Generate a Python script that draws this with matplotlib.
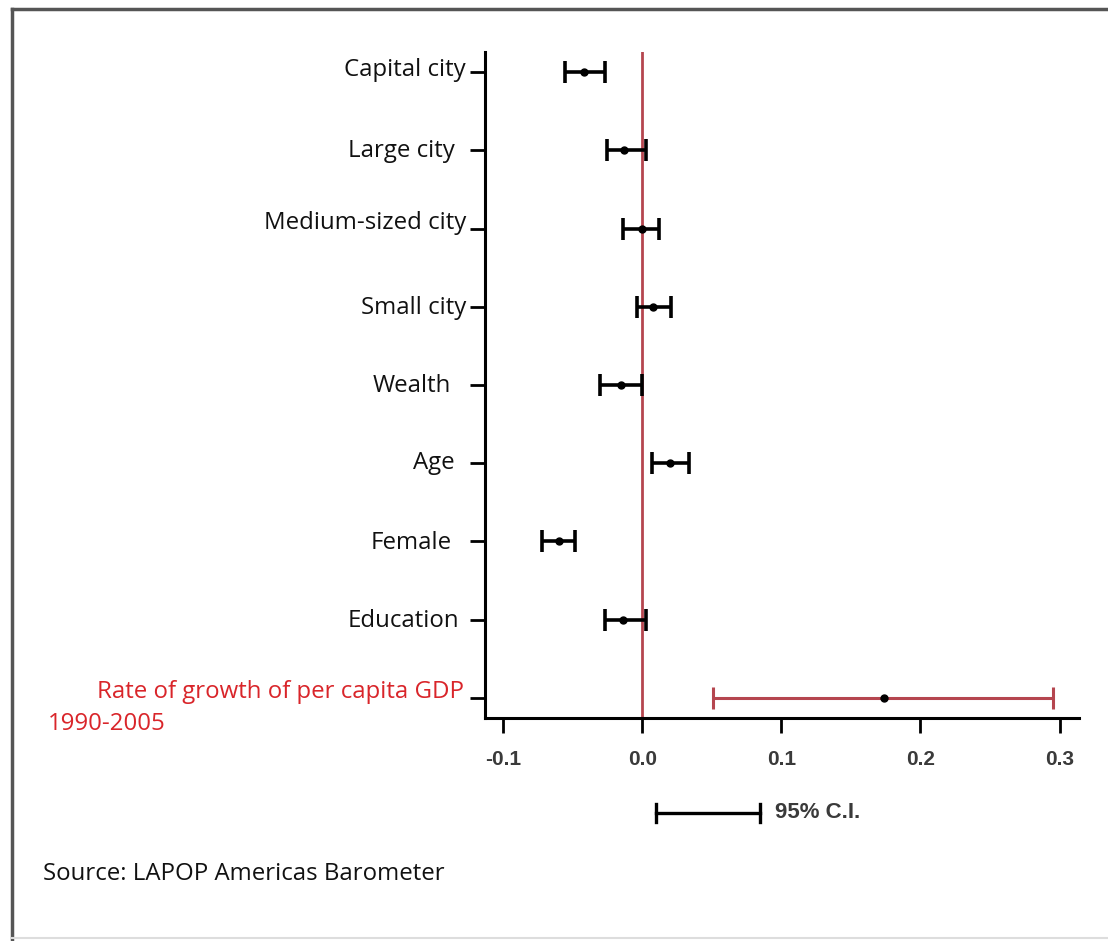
import numpy as np
import matplotlib
matplotlib.use("Agg")
import matplotlib.pyplot as plt
from matplotlib.lines import Line2D

# ====== DATA (top to bottom) ======
labels = ["Capital city", "Large city", "Medium-sized city", "Small city",
          "Wealth", "Age", "Female", "Education"]
coef = [-0.042, -0.013, 0.000, 0.008, -0.015, 0.020, -0.060, -0.0135]
ci_lo = [-0.0557, -0.025, -0.0136, -0.004, -0.030, 0.007, -0.072, -0.027]
ci_hi = [-0.027, 0.003, 0.012, 0.021, 0.000, 0.034, -0.048, 0.003]

gdp_label = ["Rate of growth of per capita GDP", "1990-2005"]
gdp_coef = 0.1736
gdp_lo = 0.051
gdp_hi = 0.295

xticks = [-0.1, 0.0, 0.1, 0.2, 0.3]
source = "Source: LAPOP Americas Barometer"

# label anchors in pixels (they sit a bit unevenly in the original)
label_right_px = [466, 455, 466, 466, 451, 455, 452, 459]
label_y_px = [70, 151, 223, 308, 386, 463, 543, 621]

RED_LINE = "#b5464f"
RED_TEXT = "#d9252a"
W, H = 1108, 941
FS = 17.3

fig = plt.figure(figsize=(W / 100, H / 100), dpi=100)
fig.patch.set_facecolor("white")
ax = fig.add_axes([485 / W, 1 - 718 / H, (1079 - 485) / W, (718 - 52) / H])

n = len(labels)
ypos = np.arange(n, 0, -1)  # 8 .. 1, GDP at 0

# black error bars
xerr = np.vstack([np.array(coef) - np.array(ci_lo), np.array(ci_hi) - np.array(coef)])
ax.errorbar(coef, ypos, xerr=xerr, fmt="o", color="black", ecolor="black",
            elinewidth=2.6, capsize=8, capthick=2.6, markersize=5, zorder=3)

# red GDP bar
ax.errorbar([gdp_coef], [0], xerr=[[gdp_coef - gdp_lo], [gdp_hi - gdp_coef]],
            fmt="o", color="black", ecolor=RED_LINE, elinewidth=2.2,
            capsize=8, capthick=2.2, markersize=5, zorder=3)

ax.axvline(0, color=RED_LINE, lw=2, zorder=2)

ax.set_xlim(-0.113, 0.314)
ax.set_ylim(-0.256, 8.256)
ax.set_xticks(xticks)
ax.set_xticklabels([f"{t:.1f}" for t in xticks], fontsize=15, fontweight="bold",
                   color="#3a3a3a", family="Liberation Sans")
ax.set_yticks(list(ypos) + [0])
ax.set_yticklabels([])
ax.tick_params(axis="both", direction="out", length=11, width=2, color="black")
ax.tick_params(axis="x", pad=12)
for s in ["top", "right"]:
    ax.spines[s].set_visible(False)
for s in ["left", "bottom"]:
    ax.spines[s].set_linewidth(2.2)

# row labels
for lab, ly, rx in zip(labels, label_y_px, label_right_px):
    fig.text(rx / W, 1 - ly / H, lab, ha="right", va="center",
             fontsize=FS, family="Open Sans", color="#111111")

fig.text(97 / W, 1 - 692 / H, gdp_label[0], ha="left", va="center",
         fontsize=FS, family="Open Sans", color=RED_TEXT)
fig.text(48 / W, 1 - 724 / H, gdp_label[1], ha="left", va="center",
         fontsize=FS, family="Open Sans", color=RED_TEXT)

# 95% C.I. key
ky = 1 - 813 / H
fig.add_artist(Line2D([656 / W, 760 / W], [ky, ky], color="black", lw=2.4))
for kx in (656, 760):
    fig.add_artist(Line2D([kx / W, kx / W], [ky - 9 / H, ky + 9 / H], color="black", lw=2.4))
fig.text(775 / W, ky, "95% C.I.", ha="left", va="center", fontsize=16,
         fontweight="bold", color="#3a3a3a", family="Liberation Sans")

fig.text(43 / W, 1 - 874 / H, source, ha="left", va="center", fontsize=FS,
         family="Open Sans", color="#111111")

# outer frame
fig.add_artist(Line2D([12 / W, 12 / W], [0, 1 - 9 / H], color="#555555", lw=2.5))
fig.add_artist(Line2D([12 / W, 1], [1 - 9 / H, 1 - 9 / H], color="#555555", lw=2.5))
fig.add_artist(Line2D([12 / W, 1], [1 - 938 / H, 1 - 938 / H], color="#dddddd", lw=1.5))

fig.savefig("out.png", dpi=100)
